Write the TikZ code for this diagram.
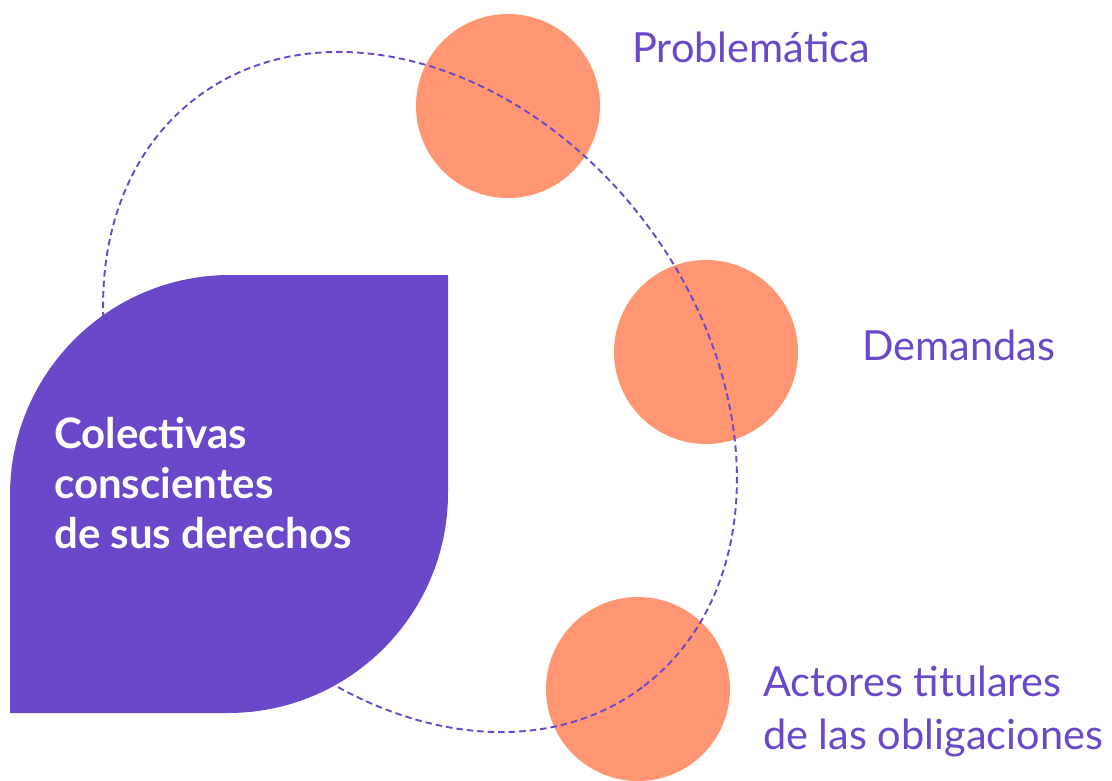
\documentclass[tikz,border=0pt]{standalone}
\usepackage{fontspec}
\setmainfont{Lato}
\definecolor{vio}{HTML}{6A48C9}
\definecolor{coral}{HTML}{FE9673}
\begin{document}
\begin{tikzpicture}[x=1pt,y=-1pt,
  dot/.style={circle, fill=coral, draw=none, minimum size=184pt, inner sep=0pt},
  orbit/.style={draw=vio, line width=1.9pt, dash pattern=on 6.5pt off 4pt},
  lbl/.style={text=vio, font=\fontsize{41.5}{52.5}\selectfont, anchor=base west, inner sep=0pt, align=left},
  mainlbl/.style={text=white, font=\bfseries\fontsize{42}{50}\selectfont, anchor=base west, inner sep=0pt, align=left}]
\useasboundingbox[fill=white] (0,0) rectangle (1112,780);
\node[dot] (c1) at (508,106) {};
\node[dot] (c2) at (706,352) {};
\node[dot] (c3) at (638,689) {};
\draw[orbit, rotate around={-52.7:(420,392)}] (420,392) ellipse [x radius=369.6pt, y radius=281.9pt];
\fill[vio] (10,713) -- (10,495) arc[start angle=180, end angle=90, radius=220pt]
  -- (448,275) -- (448,493) arc[start angle=0, end angle=-90, radius=220pt] -- cycle;
\node[mainlbl] (m) at (54,548) {Colectivas\\conscientes\\de sus derechos};
\node[lbl] (t1) at (632,62) {Problemática};
\node[lbl] (t2) at (862,360) {Demandas};
\node[lbl] (t3) at (763,749) {Actores titulares\\de las obligaciones};
\end{tikzpicture}
\end{document}
